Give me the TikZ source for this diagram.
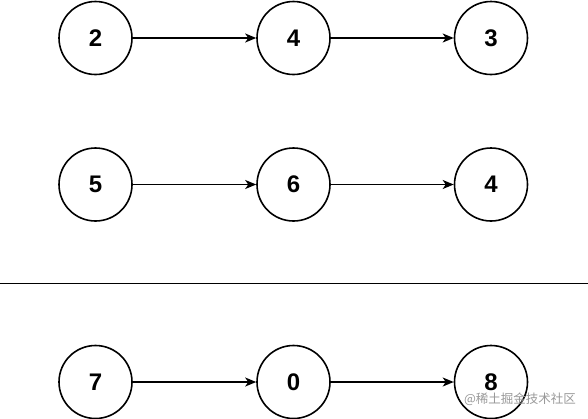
\documentclass[tikz,border=0pt]{standalone}
\usepackage{fontspec}
\setmainfont{Liberation Sans}
\newfontfamily\cjk{Noto Sans CJK SC}
\usetikzlibrary{arrows.meta}
\begin{document}
\begin{tikzpicture}[x=1pt,y=-1pt,
  nd/.style={circle,draw=black,line width=1.6pt,minimum size=73pt,inner sep=0pt,font=\bfseries\fontsize{24}{24}\selectfont},
  lnk/.style={line width=1.4pt,-{Stealth[length=11pt,width=9pt,inset=3pt]}}]
\useasboundingbox[fill=white] (0,0) rectangle (588,418);
\node[nd] (a1) at (95.5,38) {2};
\node[nd] (a2) at (293.5,38) {4};
\node[nd] (a3) at (491,38) {3};
\node[nd] (b1) at (95.5,184.5) {5};
\node[nd] (b2) at (293.5,184.5) {6};
\node[nd] (b3) at (491,184.5) {4};
\node[nd] (c1) at (95.5,382) {7};
\node[nd] (c2) at (293.5,382) {0};
\node[nd] (c3) at (491,382) {8};
\draw[lnk] (a1) -- (a2);
\draw[lnk] (a2) -- (a3);
\draw[lnk] (b1) -- (b2);
\draw[lnk] (b2) -- (b3);
\draw[lnk] (c1) -- (c2);
\draw[lnk] (c2) -- (c3);
\coordinate (l1) at (0,283.5);
\coordinate (l2) at (588,283.5);
\draw[line width=1.8pt] (l1) -- (l2);
\node[text=black!40,font=\cjk\fontsize{12.5}{12.5}\selectfont,inner sep=0pt] (wm) at (520,399) {@稀土掘金技术社区};
\end{tikzpicture}
\end{document}
